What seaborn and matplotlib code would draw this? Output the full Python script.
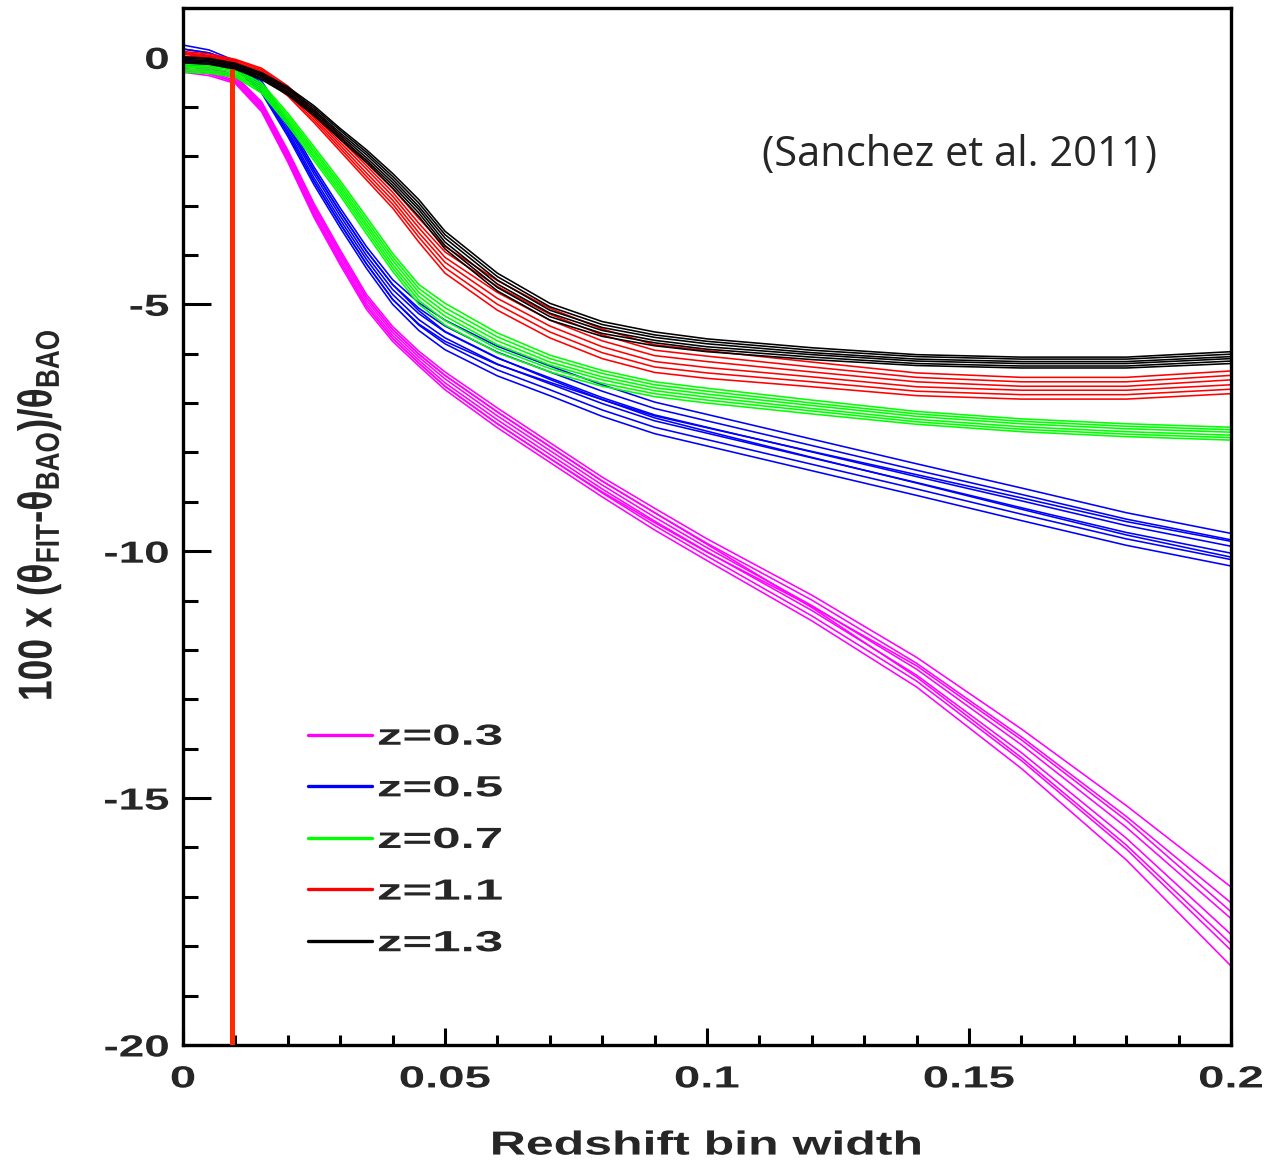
import matplotlib
matplotlib.use("Agg")
import matplotlib.pyplot as plt
import seaborn as sns
import pandas as pd
from matplotlib.ticker import MultipleLocator
from matplotlib.patheffects import AbstractPathEffect
from matplotlib.transforms import Affine2D

sns.set_theme(style="white")
plt.rcParams["font.family"] = ["Liberation Sans", "DejaVu Sans"]
plt.rcParams["mathtext.fontset"] = "custom"
plt.rcParams["mathtext.rm"] = "Liberation Sans:bold"
plt.rcParams["mathtext.it"] = "Liberation Sans:bold"
plt.rcParams["mathtext.bf"] = "Liberation Sans:bold"

# redshift bin width grid
bin_width = [0, 0.005, 0.01, 0.015, 0.02, 0.025, 0.03, 0.035, 0.04, 0.045, 0.05,
             0.06, 0.07, 0.08, 0.09, 0.10, 0.12, 0.14, 0.16, 0.18, 0.20]

# 100 x (theta_fit - theta_bao) / theta_bao, one row per fitted realisation
z03 = [
    [-0.10, -0.17, -0.37, -0.90, -1.88, -2.96, -3.90, -4.80, -5.45, -5.95, -6.37, -7.10, -7.80, -8.50, -9.13, -9.75, -10.89, -12.15, -13.60, -15.15, -16.80],
    [-0.14, -0.21, -0.40, -0.94, -1.93, -3.02, -3.96, -4.86, -5.51, -6.01, -6.44, -7.18, -7.88, -8.58, -9.22, -9.84, -10.99, -12.27, -13.76, -15.37, -17.12],
    [-0.18, -0.25, -0.43, -0.98, -1.98, -3.07, -4.02, -4.92, -5.57, -6.07, -6.51, -7.26, -7.96, -8.66, -9.31, -9.93, -11.10, -12.39, -13.92, -15.59, -17.44],
    [-0.22, -0.29, -0.47, -1.02, -2.02, -3.13, -4.08, -4.98, -5.63, -6.13, -6.59, -7.34, -8.04, -8.74, -9.39, -10.01, -11.20, -12.51, -14.08, -15.81, -17.76],
    [-0.26, -0.33, -0.50, -1.06, -2.07, -3.18, -4.14, -5.04, -5.69, -6.19, -6.66, -7.42, -8.12, -8.82, -9.48, -10.10, -11.31, -12.63, -14.24, -16.03, -18.08],
    [-0.30, -0.37, -0.53, -1.10, -2.12, -3.24, -4.20, -5.10, -5.75, -6.25, -6.73, -7.50, -8.20, -8.90, -9.57, -10.19, -11.41, -12.75, -14.40, -16.25, -18.40],
    [-0.14, -0.21, -0.40, -0.94, -1.93, -3.02, -3.96, -4.86, -5.51, -6.01, -6.44, -7.18, -7.88, -8.58, -9.22, -9.86, -11.14, -12.55, -14.18, -15.95, -17.95],
    [-0.26, -0.33, -0.50, -1.06, -2.07, -3.18, -4.14, -5.04, -5.69, -6.19, -6.66, -7.42, -8.12, -8.80, -9.42, -10.02, -11.12, -12.32, -13.82, -15.45, -17.30],
]
z05 = [
    [0.25, 0.15, -0.07, -0.48, -1.30, -2.22, -3.05, -3.83, -4.50, -4.97, -5.32, -5.85, -6.25, -6.63, -6.98, -7.23, -7.73, -8.23, -8.72, -9.22, -9.64],
    [0.17, 0.09, -0.10, -0.53, -1.36, -2.29, -3.13, -3.92, -4.60, -5.08, -5.44, -5.97, -6.37, -6.76, -7.11, -7.36, -7.86, -8.36, -8.85, -9.35, -9.77],
    [0.09, 0.03, -0.13, -0.58, -1.42, -2.36, -3.21, -4.01, -4.70, -5.19, -5.56, -6.09, -6.49, -6.89, -7.24, -7.49, -7.99, -8.49, -8.98, -9.48, -9.90],
    [0.01, -0.03, -0.17, -0.62, -1.48, -2.44, -3.29, -4.09, -4.80, -5.31, -5.68, -6.21, -6.61, -7.01, -7.36, -7.61, -8.11, -8.61, -9.12, -9.62, -10.04],
    [-0.07, -0.09, -0.20, -0.67, -1.54, -2.51, -3.37, -4.18, -4.90, -5.42, -5.80, -6.33, -6.73, -7.14, -7.49, -7.74, -8.24, -8.74, -9.25, -9.75, -10.17],
    [-0.15, -0.15, -0.23, -0.72, -1.60, -2.58, -3.45, -4.27, -5.00, -5.53, -5.92, -6.45, -6.85, -7.27, -7.62, -7.87, -8.37, -8.87, -9.38, -9.88, -10.30],
    [-0.07, -0.09, -0.20, -0.67, -1.54, -2.51, -3.37, -4.18, -4.90, -5.40, -5.75, -6.22, -6.58, -6.93, -7.26, -7.50, -7.98, -8.45, -8.92, -9.40, -9.80],
    [0.17, 0.09, -0.10, -0.53, -1.36, -2.29, -3.13, -3.92, -4.60, -5.13, -5.55, -6.08, -6.52, -6.93, -7.30, -7.57, -8.10, -8.62, -9.15, -9.67, -10.12],
]
z07 = [
    [-0.14, -0.16, -0.24, -0.52, -1.13, -1.81, -2.50, -3.23, -3.97, -4.60, -4.98, -5.58, -6.03, -6.34, -6.57, -6.70, -6.94, -7.17, -7.32, -7.42, -7.49],
    [-0.17, -0.19, -0.27, -0.56, -1.18, -1.87, -2.56, -3.30, -4.04, -4.68, -5.07, -5.66, -6.10, -6.40, -6.63, -6.76, -7.00, -7.22, -7.37, -7.47, -7.54],
    [-0.20, -0.22, -0.30, -0.60, -1.23, -1.92, -2.62, -3.37, -4.11, -4.76, -5.16, -5.74, -6.17, -6.47, -6.69, -6.82, -7.05, -7.27, -7.42, -7.52, -7.59],
    [-0.24, -0.26, -0.34, -0.64, -1.27, -1.98, -2.68, -3.43, -4.19, -4.84, -5.24, -5.82, -6.23, -6.53, -6.75, -6.88, -7.11, -7.33, -7.48, -7.58, -7.65],
    [-0.27, -0.29, -0.37, -0.68, -1.32, -2.03, -2.74, -3.50, -4.26, -4.92, -5.33, -5.90, -6.30, -6.60, -6.81, -6.94, -7.16, -7.38, -7.53, -7.63, -7.70],
    [-0.30, -0.32, -0.40, -0.72, -1.37, -2.09, -2.80, -3.57, -4.33, -5.00, -5.42, -5.98, -6.37, -6.66, -6.87, -7.00, -7.22, -7.43, -7.58, -7.68, -7.75],
]
z11 = [
    [0.12, 0.07, -0.04, -0.22, -0.58, -1.08, -1.60, -2.12, -2.65, -3.26, -3.83, -4.52, -5.08, -5.50, -5.82, -5.94, -6.17, -6.39, -6.48, -6.48, -6.35],
    [0.09, 0.04, -0.06, -0.25, -0.62, -1.13, -1.66, -2.19, -2.73, -3.36, -3.94, -4.64, -5.20, -5.62, -5.93, -6.05, -6.27, -6.48, -6.57, -6.57, -6.44],
    [0.06, 0.01, -0.09, -0.28, -0.66, -1.18, -1.72, -2.26, -2.81, -3.45, -4.05, -4.76, -5.32, -5.74, -6.04, -6.16, -6.37, -6.57, -6.66, -6.66, -6.53],
    [0.02, -0.01, -0.11, -0.32, -0.70, -1.22, -1.78, -2.34, -2.89, -3.55, -4.15, -4.88, -5.44, -5.86, -6.16, -6.28, -6.47, -6.67, -6.74, -6.74, -6.63],
    [-0.01, -0.04, -0.14, -0.35, -0.74, -1.27, -1.84, -2.41, -2.97, -3.64, -4.26, -5.00, -5.56, -5.98, -6.27, -6.39, -6.57, -6.76, -6.83, -6.83, -6.72],
    [-0.04, -0.07, -0.16, -0.38, -0.78, -1.32, -1.90, -2.48, -3.05, -3.74, -4.37, -5.12, -5.68, -6.10, -6.38, -6.50, -6.67, -6.85, -6.92, -6.92, -6.81],
]
z13 = [
    [0.01, -0.02, -0.12, -0.31, -0.60, -0.98, -1.44, -1.87, -2.35, -2.88, -3.52, -4.37, -4.98, -5.35, -5.56, -5.70, -5.88, -6.02, -6.07, -6.07, -5.96],
    [-0.01, -0.04, -0.14, -0.34, -0.63, -1.02, -1.48, -1.92, -2.41, -2.95, -3.59, -4.44, -5.05, -5.41, -5.62, -5.75, -5.93, -6.06, -6.11, -6.11, -6.01],
    [-0.04, -0.07, -0.17, -0.37, -0.66, -1.06, -1.53, -1.97, -2.47, -3.02, -3.66, -4.51, -5.12, -5.47, -5.67, -5.80, -5.98, -6.11, -6.16, -6.16, -6.06],
    [-0.06, -0.09, -0.19, -0.39, -0.70, -1.10, -1.57, -2.03, -2.53, -3.08, -3.74, -4.59, -5.18, -5.53, -5.73, -5.86, -6.02, -6.15, -6.20, -6.20, -6.10],
    [-0.09, -0.12, -0.22, -0.42, -0.73, -1.14, -1.62, -2.08, -2.59, -3.15, -3.81, -4.66, -5.25, -5.59, -5.78, -5.91, -6.07, -6.20, -6.25, -6.25, -6.15],
    [-0.11, -0.14, -0.24, -0.45, -0.76, -1.18, -1.66, -2.13, -2.65, -3.22, -3.88, -4.73, -5.32, -5.65, -5.84, -5.96, -6.12, -6.24, -6.29, -6.29, -6.20],
]

groups = ["z=0.3", "z=0.5", "z=0.7", "z=1.1", "z=1.3"]
curves = [z03, z05, z07, z11, z13]
colors = ["#ff00ff", "#0000ff", "#00ff00", "#ff0000", "#000000"]

# vertical marker of the smallest bin width
marker_x = [0.0094, 0.0094]
marker_y = [-0.23, -20.0]


class Stretch(AbstractPathEffect):
    """Draw text glyphs widened/heightened about an anchor of their own box."""

    def __init__(self, sx=1.0, sy=1.0, anchor="center"):
        super().__init__()
        self.sx, self.sy, self.anchor = sx, sy, anchor

    def draw_path(self, renderer, gc, tpath, affine, rgbFace=None):
        ext = tpath.get_extents(affine)
        if self.anchor == "left":
            cx = ext.x0
        elif self.anchor == "right":
            cx = ext.x1
        else:
            cx = 0.5 * (ext.x0 + ext.x1)
        cy = 0.5 * (ext.y0 + ext.y1)
        t = affine + Affine2D().translate(-cx, -cy).scale(self.sx, self.sy).translate(cx, cy)
        renderer.draw_path(gc, tpath, t, rgbFace)


rows = []
for g, members in zip(groups, curves):
    for i, vals in enumerate(members):
        for x, y in zip(bin_width, vals):
            rows.append({"group": g, "member": i, "x": x, "y": y})
df = pd.DataFrame(rows)

fig = plt.figure(figsize=(12.74, 11.65), dpi=100)
ax = fig.add_axes([183 / 1274, 1 - 1045 / 1165, (1231 - 183) / 1274, (1045 - 8) / 1165])

sns.lineplot(data=df, x="x", y="y", hue="group", units="member", estimator=None,
             palette=dict(zip(groups, colors)), hue_order=groups, lw=1.15,
             sort=False, ax=ax, legend=False)
ax.plot(marker_x, marker_y, color="#ff2a00", lw=3.6, solid_capstyle="butt", zorder=3)

ax.set_xlim(0, 0.2)
ax.set_ylim(-20, 1.0)
ax.set_xticks([0, 0.05, 0.1, 0.15, 0.2])
ax.set_xticklabels(["0", "0.05", "0.1", "0.15", "0.2"])
ax.set_yticks([0, -5, -10, -15, -20])
ax.set_yticklabels(["0", "-5", "-10", "-15", "-20"])
ax.xaxis.set_minor_locator(MultipleLocator(0.01))
ax.yaxis.set_minor_locator(MultipleLocator(1))
ax.tick_params(which="major", direction="in", length=20, width=2.2, color="black",
               labelsize=22, pad=10)
ax.tick_params(which="minor", direction="in", length=11, width=2.2, color="black")
ax.tick_params(axis="x", which="minor", length=7)
ax.tick_params(axis="x", which="major", length=12, pad=14)
ax.tick_params(left=True, bottom=True, which="both")
for t in ax.xaxis.get_major_ticks():
    t.label1.set_fontweight("bold")
    t.label1.set_path_effects([Stretch(1.55, 1.0, "center")])
for t in ax.yaxis.get_major_ticks():
    t.label1.set_fontweight("bold")
    t.label1.set_path_effects([Stretch(1.5, 1.0, "right")])
for s in ax.spines.values():
    s.set_visible(True)
    s.set_color("black")
    s.set_linewidth(2.4)

xl = ax.set_xlabel("Redshift bin width", fontsize=24, fontweight="bold", labelpad=26)
xl.set_path_effects([Stretch(1.5, 1.0, "center")])
yl = ax.set_ylabel(r"$\mathrm{100\ x\ (θ_{FIT}{\text{-}}θ_{BAO})/θ_{BAO}}$", fontsize=22)
ax.yaxis.set_label_coords(-0.121, 0.511)
yl.set_path_effects([Stretch(1.55, 1.22, "center")])

ax.text(0.929, 0.858, "(Sanchez et al. 2011)", transform=ax.transAxes, ha="right",
        va="center", fontsize=30, family="Open Sans")

handles = [plt.Line2D([], [], color=c, lw=2.4) for c in colors]
leg = ax.legend(handles, groups, loc="center left", bbox_to_anchor=(0.094, 0.1977),
                frameon=False, handlelength=2.2, handletextpad=0.2, labelspacing=0.81,
                prop={"size": 21, "weight": "bold"})
for txt in leg.get_texts():
    txt.set_path_effects([Stretch(1.75, 1.0, "left")])

fig.savefig("out.png", dpi=100)
